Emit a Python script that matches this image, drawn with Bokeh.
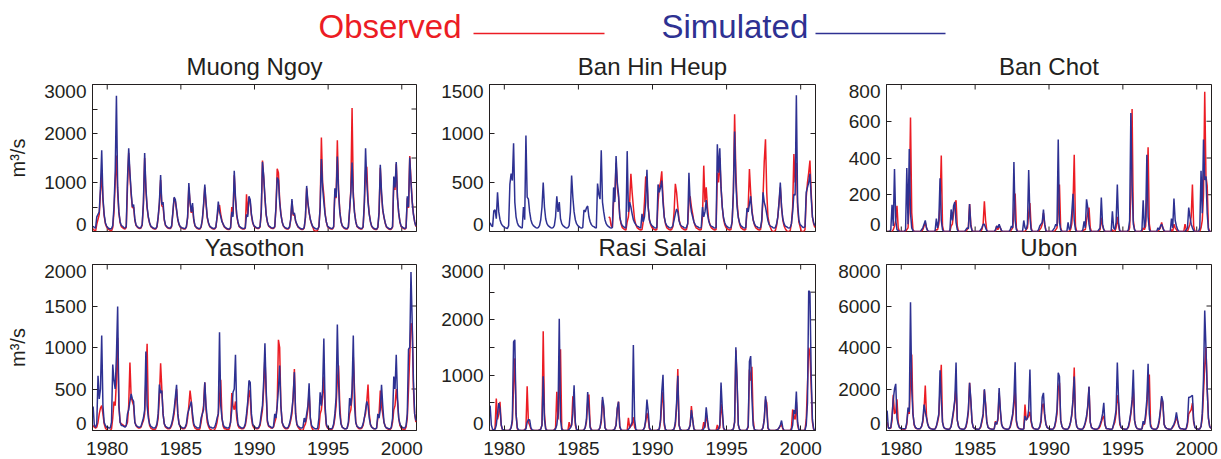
import numpy as np
from bokeh.plotting import figure
from bokeh.layouts import column, row
from bokeh.models import Range1d, FixedTicker, LinearAxis, ColumnDataSource, Title
from bokeh.core.properties import value
from bokeh.embed import file_html
from bokeh.resources import INLINE

RED = "#EC1C24"
BLUE = "#2E3192"
INK = "#231F20"
FONT = "Liberation Sans"

START_YEAR = 1979
N_YEARS = 22
YEAR_TICKS = [1980, 1985, 1990, 1995, 2000]

STATIONS = ["Muong Ngoy", "Ban Hin Heup", "Ban Chot", "Yasothon", "Rasi Salai", "Ubon"]
Y_MAX = [3000, 1500, 800, 2000, 3000, 8000]
Y_LABEL_TICKS = [[0, 1000, 2000, 3000], [0, 500, 1000, 1500], [0, 200, 400, 600, 800],
                 [0, 500, 1000, 1500, 2000], [0, 1000, 2000, 3000], [0, 2000, 4000, 6000, 8000]]
Y_MINOR_TICKS = [[500, 1500, 2500], [], [], [], [500, 1500, 2500], []]

LEGEND_LABELS = ["Observed", "Simulated"]

# monthly discharge (m3/s), Jan..Dec, one row per year 1979..2000
muong_sim = [
110,80,70,300,350,400,900,1660,700,350,180,110,
80,60,50,60,120,500,1200,2770,900,400,200,120,
110,80,70,100,1070,1700,1200,800,500,550,250,130,
100,80,70,80,150,600,1600,900,500,300,180,110,
90,70,60,60,100,300,600,1150,550,600,250,130,
100,80,70,70,120,400,700,650,450,250,150,100,
80,70,60,60,100,300,990,600,400,580,250,120,
90,70,60,60,100,250,550,960,600,300,180,110,
90,70,60,60,90,300,610,400,300,200,150,100,
80,60,50,50,80,400,300,1240,700,350,200,110,
90,70,60,60,80,350,300,720,650,350,200,120,
100,80,70,70,100,400,1420,1130,700,350,200,120,
100,80,70,70,100,500,1100,1050,600,350,200,120,
90,70,60,60,90,250,660,350,380,220,150,100,
80,60,50,50,80,300,930,600,400,250,160,100,
80,60,50,50,100,500,1480,900,600,350,200,110,
90,70,60,60,100,880,700,1530,800,400,200,120,
90,70,60,60,100,450,800,1410,700,380,200,110,
90,70,60,60,100,600,1700,1000,600,350,200,110,
80,60,50,50,90,400,1360,800,450,300,180,100,
80,60,50,60,100,1120,900,1420,700,380,200,110,
90,70,60,80,720,500,1510,1000,600,350,200,110,
]
muong_obs = [
60,20,0,150,250,350,800,1200,650,320,160,90,
60,40,20,10,80,400,1000,1550,800,380,180,100,
80,60,50,80,900,1600,1150,750,480,500,230,120,
90,70,60,70,130,550,1500,850,480,280,170,100,
80,60,50,50,90,280,550,1050,520,500,230,120,
90,70,60,60,100,380,680,620,430,240,140,90,
70,60,50,50,90,280,900,580,380,500,230,110,
80,60,50,50,90,230,520,900,570,280,170,100,
80,60,50,50,80,280,450,540,350,220,140,90,
70,50,40,40,70,500,350,1150,650,330,180,100,
80,60,50,50,70,760,350,700,600,330,180,110,
90,70,60,60,90,380,1450,1100,680,340,190,110,
90,70,60,60,90,480,1280,1200,650,360,200,110,
80,60,50,50,80,230,620,330,350,210,140,90,
70,50,40,40,70,280,880,580,380,240,150,90,
20,10,0,30,100,500,1920,1000,750,380,200,100,
80,60,50,50,90,800,680,1860,850,420,210,110,
80,60,50,50,90,430,850,2520,800,400,210,100,
80,60,50,50,90,550,1250,1320,650,360,200,100,
70,50,40,40,80,380,1300,760,430,290,170,90,
70,50,40,50,90,1000,850,1380,680,370,190,100,
80,60,50,70,680,480,1540,1050,620,360,200,100,
]

banhin_sim = [
90,60,50,210,220,130,400,200,120,80,60,50,
40,35,30,60,480,590,520,900,300,150,90,60,
50,40,35,250,120,980,350,330,200,120,80,60,
50,40,35,40,60,120,250,500,250,130,80,60,
50,40,35,40,60,150,360,200,300,130,80,60,
50,40,35,40,60,200,570,350,200,120,80,60,
50,40,35,40,220,200,240,260,150,100,70,55,
50,40,35,490,380,330,830,300,200,120,80,60,
50,40,35,40,450,300,770,500,380,150,90,60,
50,40,35,820,200,300,250,180,120,90,70,55,
50,40,35,180,100,150,300,630,250,120,80,60,
50,40,35,40,480,400,450,520,300,150,90,60,
50,40,35,40,60,120,180,230,200,110,70,55,
50,40,35,40,80,600,300,200,150,100,70,55,
50,40,35,40,250,150,200,320,180,110,70,55,
50,40,35,40,890,600,850,450,250,140,90,60,
50,40,35,40,100,400,1020,500,250,140,90,60,
50,40,35,40,240,200,280,360,200,120,80,55,
50,40,35,40,120,400,300,250,180,110,70,55,
50,40,35,40,80,150,300,500,250,130,80,55,
50,40,35,40,80,200,380,370,1390,300,120,70,
60,45,40,50,400,450,500,590,350,150,90,60,
]
# observations at Ban Hin Heup begin in 1987
banhin_obs = [None] * 96 + [
150,140,60,40,300,350,700,450,350,150,80,40,
30,20,15,100,150,300,590,400,250,120,70,40,
30,20,15,20,100,300,560,540,250,120,70,40,
30,20,15,20,300,450,500,615,350,150,80,40,
30,20,15,20,50,200,486,400,250,120,70,40,
30,20,15,20,80,300,360,250,180,100,60,35,
30,20,15,20,150,672,300,450,250,120,70,40,
30,20,15,20,600,500,750,450,250,130,70,40,
30,20,15,20,100,400,1196,600,300,150,80,40,
30,20,15,20,200,250,638,400,220,120,70,40,
30,20,15,20,100,350,716,942,400,150,80,40,
10,0,0,10,60,150,300,450,250,120,60,30,
10,0,0,10,80,250,790,500,700,250,100,50,
0,0,0,20,350,500,600,723,400,150,80,40,
]

banchot_sim = [
0,0,0,10,146,30,340,60,10,5,0,0,
0,0,0,10,346,40,449,100,20,5,0,0,
0,0,0,0,10,20,40,60,20,5,0,0,
0,0,0,5,70,20,60,290,60,10,0,0,
0,0,0,5,120,60,140,160,50,10,0,0,
0,0,0,0,10,20,15,150,30,5,0,0,
0,0,0,0,10,20,40,40,20,5,0,0,
0,0,0,0,10,30,20,40,20,5,0,0,
0,0,0,0,10,30,20,378,60,10,0,0,
0,0,0,60,20,10,40,335,80,10,0,0,
0,0,0,10,30,40,50,120,40,5,0,0,
0,0,0,10,20,40,30,500,50,10,0,0,
0,0,0,50,10,20,100,205,60,10,0,0,
0,0,0,10,55,20,175,130,40,5,0,0,
0,0,0,0,10,20,185,40,10,0,0,0,
0,0,0,110,20,10,50,255,50,5,0,0,
0,0,0,0,10,60,645,250,40,10,0,0,
0,0,0,10,170,20,60,418,80,10,0,0,
0,0,0,0,20,10,30,40,20,5,0,0,
0,0,0,70,20,180,60,30,10,0,0,0,
0,0,0,10,20,130,80,40,20,5,0,0,
0,0,20,330,100,500,280,300,100,10,0,0,
]
banchot_obs = [
0,0,0,0,0,10,30,60,140,20,0,0,
0,0,0,0,10,20,150,621,100,10,0,0,
0,0,0,0,0,10,30,50,20,0,0,0,
0,0,0,0,10,10,40,150,413,30,0,0,
0,0,0,0,30,40,100,150,170,30,0,0,
0,0,0,0,0,10,20,150,40,5,0,0,
0,0,0,0,0,10,40,165,60,5,0,0,
0,0,0,0,0,30,10,30,20,0,0,0,
0,0,0,0,0,10,20,100,207,20,0,0,
0,0,0,0,0,10,20,100,155,20,0,0,
0,0,0,0,10,20,40,100,40,5,0,0,
0,0,0,0,0,10,20,100,256,20,0,0,
0,0,0,0,0,10,40,150,418,30,0,0,
0,0,0,0,10,10,60,100,130,20,0,0,
0,0,0,0,0,10,75,30,10,0,0,0,
0,0,0,10,0,0,20,80,30,0,0,0,
0,0,0,0,0,20,200,667,60,10,0,0,
0,0,0,0,20,10,30,200,458,40,0,0,
0,0,0,0,0,10,20,50,20,0,0,0,
0,0,0,10,0,40,20,10,0,0,0,0,
0,0,40,10,0,20,40,80,256,30,0,0,
0,0,0,20,60,200,760,300,250,20,0,0,
]

yasothon_sim = [
290,60,40,80,659,380,500,1145,300,100,60,40,
40,30,30,100,795,600,500,900,1494,300,100,60,
60,50,40,60,200,250,350,441,380,350,100,60,
50,40,40,50,100,150,250,952,300,150,80,50,
40,30,30,40,80,200,554,450,480,200,80,50,
40,30,30,40,80,150,250,400,550,200,80,50,
40,30,30,40,80,200,250,300,350,200,80,50,
40,30,30,40,150,200,250,580,300,150,70,40,
40,30,30,40,80,150,200,1185,300,150,70,40,
40,30,30,40,100,250,460,500,911,250,80,50,
40,30,30,40,80,200,350,602,580,200,80,50,
40,30,30,40,80,200,300,600,1052,500,120,60,
50,40,30,50,200,150,300,500,783,300,100,60,
40,30,30,40,80,150,250,400,703,200,80,50,
40,30,30,40,150,100,200,300,570,150,60,40,
30,20,20,30,150,460,300,500,1108,300,80,40,
30,20,20,30,80,200,400,1277,600,200,80,40,
30,20,20,30,100,390,300,500,1145,300,100,50,
40,30,30,40,80,150,250,350,300,150,70,40,
30,20,20,30,200,150,250,550,300,100,50,30,
30,20,20,40,150,650,500,912,400,150,80,40,
40,30,30,60,200,980,1000,1908,1300,600,200,120,
]
yasothon_obs = [
60,40,30,40,100,200,270,300,200,80,30,10,
0,0,0,20,150,350,300,600,1116,300,100,80,
70,60,50,60,100,300,819,400,350,300,100,60,
40,30,30,40,80,120,200,600,1044,200,60,30,
20,10,10,20,60,150,400,811,500,200,80,40,
30,20,20,30,60,120,200,350,500,200,80,40,
30,20,20,30,60,150,300,482,350,150,60,30,
20,10,10,20,100,200,300,578,250,100,50,20,
10,0,0,10,40,100,200,400,610,150,50,20,
20,10,10,20,100,450,300,250,350,150,60,30,
30,20,20,30,60,150,300,490,400,150,60,30,
30,20,20,30,60,150,250,500,900,450,100,50,
40,30,30,40,100,150,300,1092,1000,300,100,50,
30,20,20,30,60,120,200,400,740,200,70,40,
20,10,0,0,50,80,150,250,470,150,40,10,
0,0,0,0,30,200,250,400,650,250,60,30,
20,10,10,20,60,150,300,600,783,300,80,40,
30,20,20,30,80,200,250,400,884,500,100,50,
30,20,20,30,60,150,200,350,554,200,70,40,
30,20,20,30,150,200,480,300,200,100,50,30,
20,10,10,30,100,250,300,500,350,150,60,30,
20,10,10,40,150,500,900,1293,1250,500,200,100,
]

rasi_sim = [
450,100,20,10,20,100,300,497,400,100,20,10,
5,0,0,0,10,50,200,1600,1640,300,50,10,
5,0,0,0,10,30,150,200,190,50,10,5,
0,0,0,0,10,20,100,982,200,30,5,0,
0,0,0,0,10,30,100,300,2018,200,20,5,
0,0,0,0,20,50,100,300,818,150,20,5,
0,0,0,0,10,50,200,697,400,50,10,0,
0,0,0,0,10,50,200,606,450,50,10,0,
0,0,0,0,10,30,100,400,520,80,10,0,
0,0,0,0,20,50,100,150,1545,200,20,5,
0,0,0,0,10,50,200,558,350,50,10,0,
0,0,0,0,10,30,200,700,1006,150,20,5,
0,0,0,0,10,30,150,500,990,100,20,5,
0,0,0,0,10,30,100,370,200,30,5,0,
0,0,0,0,10,30,100,420,200,30,5,0,
0,0,0,0,10,30,100,867,400,50,10,0,
0,0,0,0,10,30,150,1503,900,100,20,5,
0,0,0,0,20,80,1250,1345,600,100,20,5,
5,0,0,0,10,50,200,620,400,50,10,0,
0,0,0,0,10,20,50,100,180,50,5,0,
0,0,0,0,10,100,370,300,703,150,20,5,
0,0,0,10,100,500,2527,2500,1000,200,30,5,
]
rasi_obs = [
0,0,0,0,50,576,200,300,520,100,10,0,
0,0,0,0,10,50,150,800,1303,300,30,5,
0,0,0,0,10,50,800,150,100,30,5,0,
0,0,0,0,10,30,100,1794,300,30,5,0,
0,0,0,0,10,50,700,200,600,1467,50,5,
0,0,0,0,150,50,100,620,500,100,10,0,
0,0,0,0,10,50,150,500,650,80,10,0,
0,0,0,0,10,50,150,550,400,50,10,0,
0,0,0,0,10,30,100,400,520,60,10,0,
0,0,0,0,230,50,80,100,240,60,10,0,
0,0,0,0,10,50,150,320,200,30,5,0,
0,0,0,0,10,30,150,500,700,100,10,0,
0,0,0,0,10,30,100,400,1109,100,10,0,
0,0,0,0,10,30,100,440,200,30,5,0,
0,0,0,0,20,150,50,300,150,20,0,0,
0,0,0,0,100,20,50,480,300,40,5,0,
0,0,0,0,10,30,150,1450,850,100,20,0,
0,0,0,0,20,60,1100,900,1152,200,20,0,
0,0,0,0,10,50,200,560,500,40,5,0,
0,0,0,0,10,20,50,80,110,30,0,0,
0,0,0,0,50,380,250,200,520,100,10,0,
0,0,0,10,200,820,1497,1400,800,150,20,0,
]

ubon_sim = [
960,120,100,150,700,1500,2000,2249,600,300,150,100,
100,80,80,100,400,1100,900,6185,2000,800,300,150,
100,80,80,100,200,500,1250,900,600,300,150,100,
80,60,60,80,200,500,800,2908,1500,400,150,100,
80,60,60,80,200,600,1000,1500,3277,500,200,100,
80,60,60,80,200,500,1000,2297,1500,400,150,100,
80,60,60,80,200,500,800,1992,1200,400,150,100,
80,60,60,80,400,300,600,2050,1000,300,150,100,
80,60,60,80,200,500,800,1500,3293,500,200,100,
80,60,60,80,700,500,600,1000,2940,500,200,100,
80,60,60,80,200,500,1600,1815,800,300,150,100,
80,60,60,80,200,500,1000,2779,2600,500,200,100,
80,60,60,80,200,400,800,1500,2600,600,200,100,
80,60,60,80,200,400,700,1200,2120,400,150,100,
80,60,60,80,150,300,500,800,1333,300,100,80,
80,60,60,80,300,600,1000,3277,1500,400,150,100,
80,60,60,80,200,500,900,1500,2923,500,200,100,
80,60,60,80,450,300,800,1500,3213,800,200,100,
80,60,60,80,200,500,1000,1655,1400,300,150,100,
80,60,60,80,200,300,500,868,500,200,100,80,
80,60,60,100,400,1600,1600,1650,1700,500,150,100,
80,60,80,200,800,2500,5783,4000,2000,600,200,100,
]
ubon_obs = [
400,150,100,120,500,1719,800,900,1500,400,150,100,
80,60,60,80,300,1000,800,2500,3663,800,250,120,
100,80,80,100,200,400,1000,2169,700,300,150,100,
80,60,60,80,200,400,700,2000,3165,400,150,100,
80,60,60,80,200,500,900,1400,2100,500,200,100,
80,60,60,80,150,400,900,2297,1400,400,150,100,
80,60,60,80,150,400,700,1950,1300,400,150,100,
80,60,60,80,450,300,500,1800,900,300,150,100,
80,60,60,80,150,400,700,1200,2000,400,150,100,
80,60,60,80,1250,500,600,700,900,400,150,100,
80,60,60,80,150,400,1200,1300,700,300,150,100,
80,60,60,80,150,400,800,2000,2300,500,200,100,
80,60,60,80,150,400,700,1400,3036,600,200,100,
80,60,60,80,150,350,600,1100,2100,400,150,100,
80,60,60,80,100,200,400,600,700,250,100,80,
80,60,60,80,250,400,800,1700,1300,300,150,100,
80,60,60,80,150,400,800,1300,2024,500,200,100,
80,60,60,80,300,300,600,1200,2200,2699,300,120,
80,60,60,80,150,400,900,1550,1300,300,150,100,
80,60,60,80,150,250,400,650,450,200,100,80,
80,60,60,80,300,800,900,1000,1317,400,150,100,
80,60,80,200,600,1800,3084,4016,2000,600,200,100,
]

OBS = [muong_obs, banhin_obs, banchot_obs, yasothon_obs, rasi_obs, ubon_obs]
SIM = [muong_sim, banhin_sim, banchot_sim, yasothon_sim, rasi_sim, ubon_sim]

# time axis: monthly, centred in the month
t = START_YEAR + (np.arange(N_YEARS * 12) + 0.5) / 12.0

COL_W = [430, 400, 391]
BORDER_L = [92, 59, 56]
BORDER_R = [14, 15, 10]
ROW_H = [215, 199]
BORDER_T = [39, 4]
BORDER_B = [29, 29]
TICK_PX = 5


def style_title(ttl, text, standoff, valign):
    ttl.text = text
    ttl.align = "center"
    ttl.vertical_align = valign
    ttl.text_font = FONT
    ttl.text_font_size = "24px"
    ttl.text_font_style = "normal"
    ttl.text_color = INK
    ttl.standoff = standoff


def style_axis(ax):
    ax.axis_line_color = INK
    ax.axis_line_width = 1
    ax.major_tick_line_color = INK
    ax.minor_tick_line_color = INK
    ax.major_tick_in = TICK_PX
    ax.major_tick_out = 0
    ax.minor_tick_in = TICK_PX
    ax.minor_tick_out = 0
    ax.major_label_text_font = FONT
    ax.major_label_text_color = INK
    ax.major_label_text_font_size = "19px"


def make_panel(k):
    r, c = divmod(k, 3)
    x0, x1 = START_YEAR, START_YEAR + N_YEARS
    p = figure(width=COL_W[c], height=ROW_H[r],
               x_range=Range1d(x0, x1), y_range=Range1d(0, Y_MAX[k]),
               x_axis_type=None, y_axis_type=None,
               output_backend="svg", toolbar_location=None,
               min_border_left=BORDER_L[c], min_border_right=BORDER_R[c],
               min_border_top=BORDER_T[r], min_border_bottom=BORDER_B[r])
    p.outline_line_color = INK
    p.outline_line_width = 1
    p.background_fill_color = "white"
    p.border_fill_color = "white"

    if r == 0:
        # own title above, and the title of the panel underneath in the gap below
        style_title(p.title, STATIONS[k], 10, "bottom")
        below_title = Title()
        style_title(below_title, STATIONS[k + 3], 0, "bottom")
        p.add_layout(below_title, "below")

    all_y_ticks = sorted(Y_LABEL_TICKS[k] + Y_MINOR_TICKS[k])

    ly = LinearAxis(ticker=FixedTicker(ticks=Y_LABEL_TICKS[k], minor_ticks=Y_MINOR_TICKS[k]))
    style_axis(ly)
    ly.major_label_standoff = 6
    ly.major_label_text_line_height = 0.7
    # end labels sit just inside the frame, as in the original figure
    overrides = {0: "0\n"}
    if r == 0:
        overrides[Y_MAX[k]] = "\n" + str(Y_MAX[k])
    ly.major_label_overrides = overrides
    if c == 0:
        ly.axis_label = "m\u00b3/s"
        ly.axis_label_text_font = FONT
        ly.axis_label_text_font_size = "20px"
        ly.axis_label_text_font_style = "normal"
        ly.axis_label_text_color = INK
        ly.axis_label_standoff = 12
    p.add_layout(ly, "left")

    if r == 1:
        bx = LinearAxis(ticker=FixedTicker(ticks=YEAR_TICKS, minor_ticks=[]))
        style_axis(bx)
        bx.major_label_standoff = 11
        p.add_layout(bx, "below")
        x_edges = [Y_MAX[k]]
    else:
        x_edges = [0, Y_MAX[k]]

    # inward box ticks on the remaining sides (dash markers half-clipped by the frame)
    for ye in x_edges:
        p.scatter(YEAR_TICKS, [ye] * len(YEAR_TICKS), marker="dash", size=2 * TICK_PX,
                  angle=np.pi / 2, line_color=INK, line_width=1)
    p.scatter([x1] * len(all_y_ticks), all_y_ticks, marker="dash", size=2 * TICK_PX,
              line_color=INK, line_width=1)

    src = ColumnDataSource(dict(t=t,
                                obs=np.array(OBS[k], dtype=float),
                                sim=np.array(SIM[k], dtype=float)))
    p.line("t", "obs", source=src, line_color=RED, line_width=1.5)
    p.line("t", "sim", source=src, line_color=BLUE, line_width=1.5)
    return p


panels = [make_panel(k) for k in range(6)]

# legend strip: coloured label followed by a line sample
leg = figure(width=1221, height=45, x_range=Range1d(0, 1221), y_range=Range1d(0, 45),
             x_axis_type=None, y_axis_type=None, output_backend="svg",
             toolbar_location=None, min_border=0)
leg.outline_line_color = None
leg_src = ColumnDataSource(dict(x=[318, 661], y=[19, 19], text=LEGEND_LABELS, color=[RED, BLUE]))
leg.text(x="x", y="y", text="text", text_color="color", source=leg_src,
         text_font=value(FONT), text_font_size="33px", text_baseline="middle",
         text_align="left")
leg.segment(x0=[473, 815], y0=[12, 12], x1=[604, 945], y1=[12, 12],
            line_color=[RED, BLUE], line_width=1.5)

layout = column(leg, row(*panels[:3]), row(*panels[3:]))

with open("out.html", "w") as f:
    f.write(file_html(layout, INLINE))
